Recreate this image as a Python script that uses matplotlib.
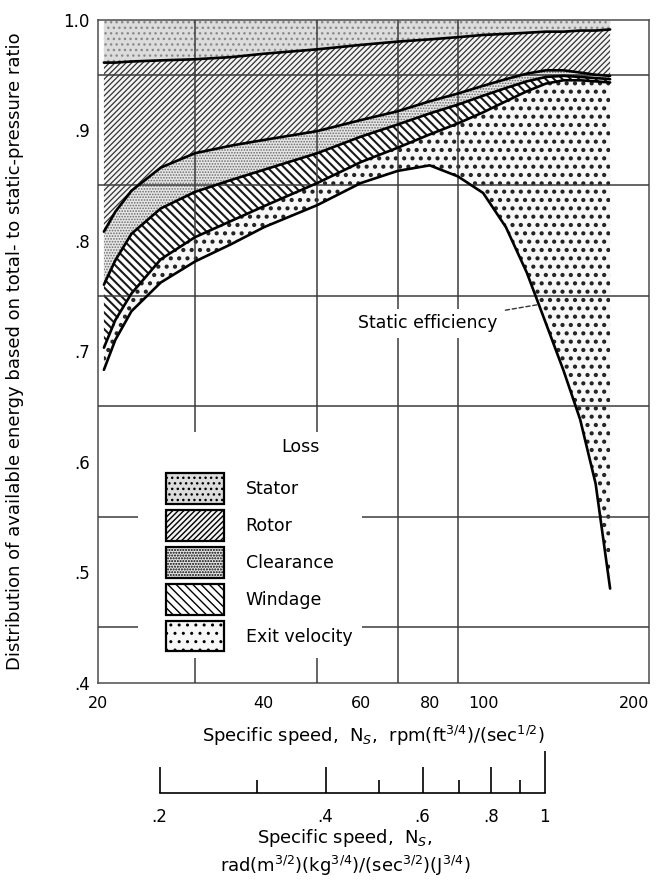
import matplotlib
matplotlib.use("Agg")
import matplotlib.pyplot as plt
from matplotlib.patches import Patch, Rectangle

# specific speed, rpm(ft^3/4)/(sec^1/2)
ns = [20.5, 21.5, 23, 26, 30, 35, 40, 50, 60, 70, 80, 90, 100, 110, 120, 130, 140, 150, 160, 170]
# boundaries between loss bands (top to bottom)
stator_rotor = [0.961, 0.961, 0.962, 0.963, 0.964, 0.966, 0.969, 0.973, 0.977, 0.980,
                0.982, 0.984, 0.986, 0.987, 0.988, 0.989, 0.989, 0.990, 0.990, 0.991]
rotor_clear = [0.808, 0.826, 0.845, 0.866, 0.879, 0.886, 0.891, 0.899, 0.909, 0.917,
               0.926, 0.933, 0.940, 0.946, 0.951, 0.954, 0.954, 0.952, 0.950, 0.949]
clear_wind = [0.760, 0.782, 0.806, 0.829, 0.844, 0.855, 0.864, 0.879, 0.894, 0.905,
              0.915, 0.923, 0.931, 0.938, 0.944, 0.948, 0.949, 0.948, 0.947, 0.946]
wind_exit = [0.703, 0.728, 0.752, 0.783, 0.803, 0.818, 0.831, 0.852, 0.871, 0.884,
             0.896, 0.906, 0.916, 0.926, 0.935, 0.942, 0.945, 0.945, 0.944, 0.943]
static_eff = [0.683, 0.710, 0.736, 0.762, 0.781, 0.797, 0.812, 0.832, 0.852, 0.863,
              0.868, 0.858, 0.843, 0.812, 0.771, 0.725, 0.682, 0.638, 0.580, 0.485]

loss_names = ["Stator", "Rotor", "Clearance", "Windage", "Exit velocity"]
x_ticks = [20, 40, 60, 80, 100, 200]
x_grid = [30, 40, 50, 60, 70, 80, 90, 100]
y_ticks = [0.4, 0.5, 0.6, 0.7, 0.8, 0.9, 1.0]
y_labels = [".4", ".5", ".6", ".7", ".8", ".9", "1.0"]
y_grid = [0.45, 0.5, 0.55, 0.6, 0.65, 0.7, 0.75, 0.8, 0.85, 0.9, 0.95]
si_factor = 129.4  # rpm(ft^3/4)/sec^1/2 per SI unit
si_major = [0.2, 0.4, 0.6, 0.8, 1.0]
si_major_labels = [".2", ".4", ".6", ".8", "1"]
si_minor = [0.3, 0.5, 0.7, 0.9]

styles = [
    dict(facecolor="#dcdcdc", edgecolor="#8a8a8a", hatch="..."),
    dict(facecolor="#f4f4f4", edgecolor="#333333", hatch="//////"),
    dict(facecolor="#e6e6e6", edgecolor="#6a6a6a", hatch="......"),
    dict(facecolor="white", edgecolor="#1a1a1a", hatch="\\\\\\\\"),
    dict(facecolor="#f7f7f7", edgecolor="#222222", hatch=".."),
]
hatch_widths = [1.0, 0.9, 0.8, 1.5, 1.8]

plt.rcParams["font.family"] = ["DejaVu Sans"]
plt.rcParams["hatch.linewidth"] = 1.0

fig = plt.figure(figsize=(6.63, 8.82), dpi=100)
ax = fig.add_axes([98 / 663, 1 - 682.5 / 882, 551 / 663, 663 / 882])
ax.set_xscale("log")
ax.set_xlim(20, 200)
ax.set_ylim(0.4, 1.0)
ax.set_axisbelow(False)

tops = [[1.0] * len(ns), stator_rotor, rotor_clear, clear_wind, wind_exit]
bottoms = [stator_rotor, rotor_clear, clear_wind, wind_exit, static_eff]
for top, bot, st, hw in zip(tops, bottoms, styles, hatch_widths):
    coll = ax.fill_between(ns, bot, top, linewidth=0, zorder=1, **st)
    if hasattr(coll, "set_hatch_linewidth"):
        coll.set_hatch_linewidth(hw)

for curve in [stator_rotor, rotor_clear, clear_wind, wind_exit, static_eff]:
    ax.plot(ns, curve, color="black", lw=1.9, zorder=3, solid_capstyle="round")

# grid
ax.set_xticks(x_ticks)
ax.set_xticklabels([str(v) for v in x_ticks])
ax.set_xticks(x_grid, minor=True)
ax.set_yticks(y_ticks)
ax.set_yticklabels(y_labels)
ax.set_yticks(y_grid, minor=True)
ax.xaxis.set_minor_formatter(plt.NullFormatter())
ax.grid(which="minor", color="#3c3c3c", lw=1.1)
ax.tick_params(which="both", length=0, labelsize=12)
ax.tick_params(axis="x", pad=10, labelsize=11.5)
ax.tick_params(axis="y", pad=6)
ax.get_xticklabels()[-1].set_horizontalalignment("right")
ax.get_xticklabels()[-1].set_x(205)
for sp in ax.spines.values():
    sp.set_color("#4d4d4d")
    sp.set_linewidth(1.1)

ax.set_ylabel("Distribution of available energy based on total- to static-pressure ratio",
              fontsize=13)
ax.yaxis.set_label_coords(-0.135, 0.5)
ax.set_xlabel("Specific speed,  N$_S$,  rpm(ft$^{3/4}$)/(sec$^{1/2}$)", fontsize=13)
ax.xaxis.set_label_coords(0.5, -0.062)

# legend area blanks the grid
ax.add_patch(Rectangle((0.073, 0.037), 0.406, 0.341, transform=ax.transAxes,
                       facecolor="white", edgecolor="none", zorder=2.7))
ax.text(0.367, 0.355, "Loss", transform=ax.transAxes, ha="center", va="center",
        fontsize=12.5, zorder=4)
handles = [Patch(linewidth=1.6, facecolor=st["facecolor"], edgecolor="black",
                 hatch=st["hatch"]) for st in styles]
leg = ax.legend(handles, loss_names, loc="upper left", bbox_to_anchor=(0.107, 0.329),
                frameon=False, borderpad=0, fontsize=12.5, handlelength=3.34,
                handleheight=2.33, handletextpad=1.27, labelspacing=0.37)
leg.set_zorder(4)

ax.annotate("Static efficiency", xy=(126, 0.742), xytext=(106, 0.725),
            ha="right", va="center", fontsize=12.5, zorder=5,
            bbox=dict(facecolor="white", edgecolor="none", pad=4),
            arrowprops=dict(arrowstyle="-", linestyle=(0, (3, 2)), lw=1,
                            color="#333333", shrinkA=2, shrinkB=0))

# SI specific-speed scale
ax2 = fig.add_axes([98 / 663, 1 - 793 / 882, 551 / 663, 0.06])
ax2.set_xscale("log")
ax2.set_xlim(20 / si_factor, 200 / si_factor)
ax2.patch.set_visible(False)
for side in ["top", "left", "right"]:
    ax2.spines[side].set_visible(False)
ax2.spines["bottom"].set_bounds(si_major[0], si_major[-1])
ax2.spines["bottom"].set_linewidth(1.2)
ax2.set_yticks([])
ax2.set_xticks(si_major, si_major_labels)
ax2.set_xticks(si_minor, [""] * len(si_minor), minor=True)
ax2.tick_params(which="major", direction="in", length=18.7, width=1.2, pad=11, labelsize=12)
ax2.tick_params(which="minor", direction="in", length=9.4, width=1.2)
ax2.xaxis.get_major_ticks()[-1].tick1line.set_markersize(30)

fig.text(345 / 663, 1 - 838 / 882, "Specific speed,  N$_S$,", ha="center", va="center",
         fontsize=13)
fig.text(345 / 663, 1 - 866 / 882,
         "rad(m$^{3/2}$)(kg$^{3/4}$)/(sec$^{3/2}$)(J$^{3/4}$)", ha="center", va="center",
         fontsize=13)

fig.savefig("out.png", dpi=100)
